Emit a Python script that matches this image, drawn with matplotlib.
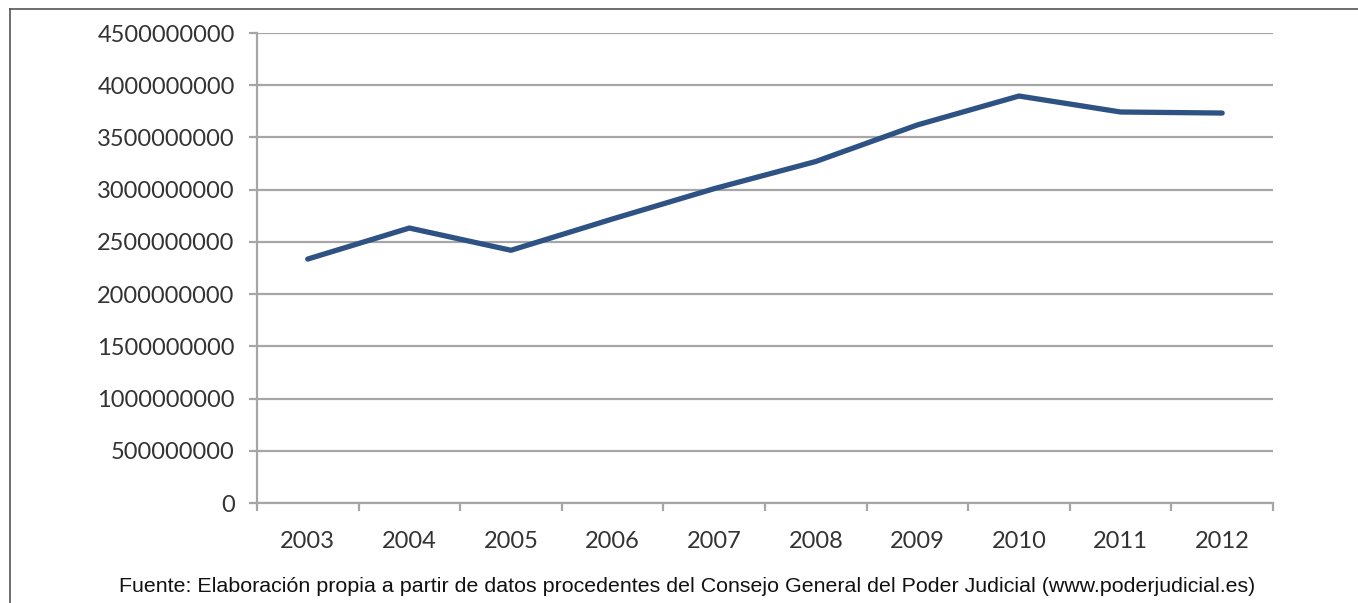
import numpy as np
import matplotlib.pyplot as plt
from matplotlib.lines import Line2D

# data
years = ["2003", "2004", "2005", "2006", "2007", "2008", "2009", "2010", "2011", "2012"]
values = [2.336e9, 2.633e9, 2.42e9, 2.72e9, 3.01e9, 3.27e9, 3.62e9, 3.897e9, 3.744e9, 3.734e9]
yticks = [0, 5e8, 1e9, 1.5e9, 2e9, 2.5e9, 3e9, 3.5e9, 4e9, 4.5e9]
source = "Fuente: Elaboración propia a partir de datos procedentes del Consejo General del Poder Judicial (www.poderjudicial.es)"

grey = "#a6a6a6"
tick_font = "Lato"

fig = plt.figure(figsize=(13.58, 6.03), dpi=100)
ax = fig.add_axes([0.1892, 0.1658, 0.7482, 0.7794])

x = np.arange(len(years))
ax.plot(x, values, color="#2e5283", linewidth=3.8, solid_capstyle="round", solid_joinstyle="round", zorder=3)

ax.set_xlim(-0.5, len(years) - 0.5)
ax.set_ylim(0, 4.5e9)
ax.set_yticks(yticks)
ax.set_yticklabels([f"{int(v)}" for v in yticks], fontfamily=tick_font, fontsize=17, color="#333333")
ax.yaxis.grid(True, color=grey, linewidth=1.6, zorder=0)

ax.set_xticks(x)
ax.set_xticklabels(years, fontfamily=tick_font, fontsize=17, color="#333333")
ax.set_xticks(np.arange(-0.5, len(years)), minor=True)
ax.tick_params(axis="x", which="major", length=0, pad=20)
ax.tick_params(axis="x", which="minor", length=6, width=1.6, color=grey)
ax.tick_params(axis="y", length=6, width=1.6, color=grey, pad=10)

for side in ["top", "right"]:
    ax.spines[side].set_visible(False)
for side in ["left", "bottom"]:
    ax.spines[side].set_color(grey)
    ax.spines[side].set_linewidth(1.6)

fig.text(0.506, 0.028, source, ha="center", va="center", fontfamily="Liberation Sans", fontsize=15.4, color="#111111")

# frame lines on the left and top of the picture
fig.add_artist(Line2D([10 / 1358, 10 / 1358], [0, 1 - 9 / 603], transform=fig.transFigure, color="#555555", linewidth=1.2))
fig.add_artist(Line2D([10 / 1358, 1], [1 - 9 / 603, 1 - 9 / 603], transform=fig.transFigure, color="#555555", linewidth=1.2))

fig.savefig("out.png")
